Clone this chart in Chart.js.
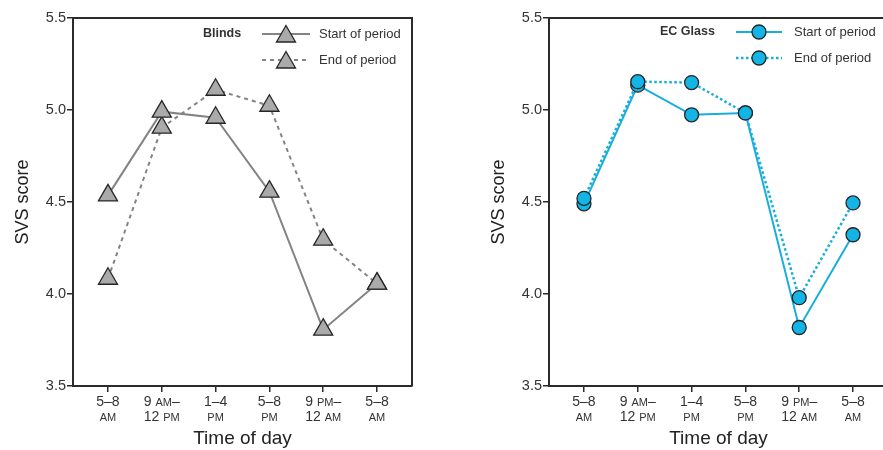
<!DOCTYPE html>
<html>
<head>
<meta charset="utf-8">
<script src="https://cdn.jsdelivr.net/npm/chart.js@4.4.0/dist/chart.umd.min.js"></script>
<style>
  html, body { margin: 0; padding: 0; background: #fff; overflow: hidden; width: 883px; height: 450px; }
  #wrap { position: relative; width: 883px; height: 450px; overflow: hidden; }
  canvas { position: absolute; top: 0; }
</style>
</head>
<body>
<div id="wrap">
  <canvas id="c1" width="440" height="450" style="left:0px"></canvas>
  <canvas id="c2" width="440" height="450" style="left:476px"></canvas>
</div>
<script>
// ---- Data ----
const categories = [["5–8", "AM"], ["9 AM–", "12 PM"], ["1–4", "PM"], ["5–8", "PM"], ["9 PM–", "12 AM"], ["5–8", "AM"]];
const yTicks = [3.5, 4.0, 4.5, 5.0, 5.5];
const seriesNames = ["Start of period", "End of period"];
const blindsStart = [4.536, 4.991, 4.958, 4.556, 3.806, 4.056];
const blindsEnd = [4.083, 4.904, 5.110, 5.023, 4.295, 4.056];
const ecStart = [4.49, 5.135, 4.974, 4.984, 3.818, 4.322];
const ecEnd = [4.52, 5.154, 5.149, 4.984, 3.98, 4.495];
const panelTitles = ["Blinds", "EC Glass"];
const xTitle = "Time of day";
const yTitle = "SVS score";

const FONT = "'Liberation Sans', Arial, Helvetica, sans-serif";
const AXIS = '#2b2b2b';
const TXT = '#333333';

function toXY(arr) { return arr.map((v, i) => ({ x: i, y: v })); }

function drawMarker(ctx, style, x, y, r, fill, stroke) {
  ctx.save();
  ctx.setLineDash([]);
  ctx.fillStyle = fill;
  ctx.strokeStyle = stroke;
  ctx.lineWidth = 1.3;
  ctx.beginPath();
  if (style === 'triangle') {
    for (let k = 0; k < 3; k++) {
      const a = k * 2 * Math.PI / 3;
      const px = x + Math.sin(a) * r, py = y - Math.cos(a) * r;
      if (k === 0) ctx.moveTo(px, py); else ctx.lineTo(px, py);
    }
    ctx.closePath();
  } else {
    ctx.arc(x, y, r, 0, Math.PI * 2);
  }
  ctx.fill();
  ctx.stroke();
  ctx.restore();
}

const frameAndLabels = {
  id: 'frameAndLabels',
  afterDraw(chart, args, opts) {
    const ctx = chart.ctx;
    const ca = chart.chartArea;
    // top and right frame
    ctx.save();
    ctx.strokeStyle = AXIS;
    ctx.lineWidth = 2;
    ctx.beginPath();
    ctx.moveTo(ca.left, ca.top);
    ctx.lineTo(ca.right, ca.top);
    ctx.lineTo(ca.right, ca.bottom);
    ctx.stroke();
    ctx.restore();

    // x tick labels with small caps AM/PM
    const xs = chart.scales.x;
    ctx.save();
    ctx.fillStyle = TXT;
    ctx.textBaseline = 'middle';
    ctx.textAlign = 'left';
    categories.forEach((lines, i) => {
      const cx = xs.getPixelForValue(i);
      lines.forEach((line, li) => {
        const y = ca.bottom + 16 + li * 15;
        const parts = line.split(/(AM|PM)/).filter(s => s.length);
        const fonts = parts.map(p => (p === 'AM' || p === 'PM') ? `11px ${FONT}` : `14px ${FONT}`);
        let w = 0;
        const widths = parts.map((p, k) => { ctx.font = fonts[k]; const m = ctx.measureText(p).width; w += m; return m; });
        let x = cx - w / 2;
        parts.forEach((p, k) => {
          ctx.font = fonts[k];
          ctx.fillText(p, x, y + ((p === 'AM' || p === 'PM') ? 0.5 : 0));
          x += widths[k];
        });
      });
    });
    ctx.restore();

    // legend
    const L = opts;
    ctx.save();
    ctx.fillStyle = TXT;
    ctx.textBaseline = 'middle';
    ctx.font = `bold 12.5px ${FONT}`;
    ctx.textAlign = 'left';
    ctx.fillText(L.title, L.titleX, L.y0);
    chart.data.datasets.forEach((ds, k) => {
      const y = L.y0 + k * 26;
      ctx.save();
      ctx.strokeStyle = ds.borderColor;
      ctx.lineWidth = ds.borderWidth;
      ctx.setLineDash(ds.borderDash || []);
      ctx.beginPath();
      ctx.moveTo(L.lineX0, y);
      ctx.lineTo(L.lineX1, y);
      ctx.stroke();
      ctx.restore();
      drawMarker(ctx, ds.pointStyle, (L.lineX0 + L.lineX1) / 2, y + (ds.pointStyle === 'triangle' ? 2.5 : 0), ds.pointRadius, ds.pointBackgroundColor, ds.pointBorderColor);
      ctx.fillStyle = TXT;
      ctx.font = `13px ${FONT}`;
      ctx.fillText(ds.label, L.textX, y);
    });
    ctx.restore();
  }
};

function makeChart(id, title, startVals, endVals, style, legend) {
  const datasets = [
    {
      label: seriesNames[0],
      data: toXY(startVals),
      order: style.startOrder,
      borderColor: style.line,
      borderWidth: 2,
      borderDash: [],
      pointStyle: style.point,
      pointRadius: style.r,
      pointBackgroundColor: style.fill,
      pointBorderColor: '#262626',
      pointBorderWidth: 1.3,
      tension: 0
    },
    {
      label: seriesNames[1],
      data: toXY(endVals),
      order: style.endOrder,
      borderColor: style.line,
      borderWidth: style.dashWidth,
      borderDash: style.dash,
      pointStyle: style.point,
      pointRadius: style.r,
      pointBackgroundColor: style.fill,
      pointBorderColor: '#262626',
      pointBorderWidth: 1.3,
      tension: 0
    }
  ];
  return new Chart(document.getElementById(id), {
    type: 'line',
    data: { datasets },
    plugins: [frameAndLabels],
    options: {
      responsive: false,
      animation: false,
      devicePixelRatio: 1,
      layout: { padding: { top: 18, right: 28, left: 0, bottom: 0 } },
      plugins: {
        legend: { display: false },
        tooltip: { enabled: false },
        frameAndLabels: legend
      },
      scales: {
        x: {
          type: 'linear',
          min: -0.65,
          max: 5.65,
          afterBuildTicks(scale) { scale.ticks = categories.map((_, i) => ({ value: i })); },
          afterFit(scale) { scale.height = 64; },
          ticks: { callback: () => '', padding: 0 },
          grid: { drawOnChartArea: false, tickLength: 6, color: AXIS, lineWidth: 1.5 },
          border: { display: true, color: AXIS, width: 2 },
          title: { display: true, text: xTitle, color: '#222', font: { family: FONT, size: 19 }, padding: { top: 0, bottom: 0 } }
        },
        y: {
          min: 3.5,
          max: 5.5,
          afterBuildTicks(scale) { scale.ticks = yTicks.map(v => ({ value: v })); },
          afterFit(scale) { scale.width = 73; },
          ticks: { color: TXT, font: { family: FONT, size: 14.5 }, padding: 1, callback: v => v.toFixed(1) },
          grid: { drawOnChartArea: false, tickLength: 6, color: AXIS, lineWidth: 1.5 },
          border: { display: true, color: AXIS, width: 2 },
          title: { display: true, text: yTitle, color: '#222', font: { family: FONT, size: 18 }, padding: { top: 12, bottom: 0 } }
        }
      }
    }
  });
}

makeChart('c1', panelTitles[0], blindsStart, blindsEnd,
  { line: '#838383', fill: '#aaaaaa', point: 'triangle', r: 11, dash: [4, 4], dashWidth: 2, startOrder: 0, endOrder: 1 },
  { title: panelTitles[0], titleX: 203, y0: 34, lineX0: 262, lineX1: 310, textX: 319 });

makeChart('c2', panelTitles[1], ecStart, ecEnd,
  { line: '#17aedb', fill: '#12b5e5', point: 'circle', r: 7, dash: [2.5, 2.5], dashWidth: 2.5, startOrder: 1, endOrder: 0 },
  { title: panelTitles[1], titleX: 184, y0: 32, lineX0: 260, lineX1: 306, textX: 318 });
</script>
</body>
</html>
